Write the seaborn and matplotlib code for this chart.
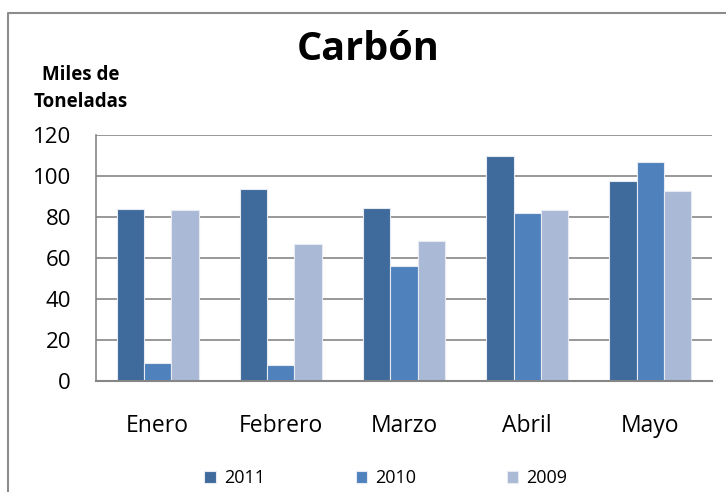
import matplotlib
matplotlib.use("Agg")
import matplotlib.pyplot as plt
from matplotlib.lines import Line2D
import seaborn as sns
import pandas as pd

# Monthly coal figures (thousands of tonnes) per year
meses = ["Enero", "Febrero", "Marzo", "Abril", "Mayo"]
anios = ["2011", "2010", "2009"]
valores_2011 = [84, 93.7, 84.2, 109.8, 97.6]
valores_2010 = [9.0, 7.6, 56.0, 82.1, 107.0]
valores_2009 = [83.5, 67.0, 68.2, 83.4, 92.9]
y_ticks = [0, 20, 40, 60, 80, 100, 120]

colores = ["#3F6A9C", "#4F81BD", "#AAB9D6"]

df = pd.DataFrame({
    "Mes": meses * 3,
    "Año": [anios[0]] * 5 + [anios[1]] * 5 + [anios[2]] * 5,
    "Valor": valores_2011 + valores_2010 + valores_2009,
})

sns.set_theme(style="white")
plt.rcParams["font.family"] = ["Open Sans", "DejaVu Sans"]
plt.rcParams["text.color"] = "black"
plt.rcParams["xtick.color"] = "black"
plt.rcParams["ytick.color"] = "black"

fig = plt.figure(figsize=(7.26, 4.92), dpi=100)
ax = fig.add_axes([96 / 726, 1 - 381 / 492, (712 - 96) / 726, (381 - 135) / 492])

sns.barplot(data=df, x="Mes", y="Valor", hue="Año", hue_order=anios,
            order=meses, palette=colores, width=0.667, ax=ax,
            edgecolor="#E6EBF3", linewidth=0.8, saturation=1)

ax.set_xlim(-0.5, 4.5)
ax.set_ylim(0, 120)
ax.set_yticks(y_ticks)
ax.set_yticklabels([str(t) for t in y_ticks], fontsize=16)
ax.tick_params(axis="x", labelsize=16.5, length=0, pad=24, labelcolor="black")
ax.tick_params(axis="y", length=0, pad=18, labelcolor="black")
ax.set_xlabel("")
ax.set_ylabel("")

grid_color = "#868686"
ax.yaxis.grid(True, color=grid_color, linewidth=1.2)
ax.set_axisbelow(True)
for side in ["top", "right"]:
    ax.spines[side].set_visible(False)
ax.spines["left"].set_color(grid_color)
ax.spines["left"].set_linewidth(1.2)
ax.spines["bottom"].set_color(grid_color)
ax.spines["bottom"].set_linewidth(1.5)

handles, labels = ax.get_legend_handles_labels()
ax.get_legend().remove()
leg = fig.legend(handles, labels, loc="center", bbox_to_anchor=(386 / 726, 1 - 478 / 492),
                 ncol=3, frameon=False, fontsize=13, handlelength=0.65, handleheight=0.65,
                 handletextpad=0.45, columnspacing=5.0)
for t in leg.get_texts():
    t.set_color("black")

fig.text(368 / 726, 1 - 50 / 492, "Carbón", ha="center", va="center",
         fontsize=28.5, fontweight="bold", color="black")
fig.text(81 / 726, 1 - 75 / 492, "Miles de", ha="center", va="center",
         fontsize=13.5, fontweight="bold", color="black")
fig.text(81 / 726, 1 - 102 / 492, "Toneladas", ha="center", va="center",
         fontsize=13.5, fontweight="bold", color="black")

# Chart frame (top and left edges)
fig.add_artist(Line2D([8 / 726, 8 / 726, 1.0], [0.0, 1 - 13 / 492, 1 - 13 / 492],
                      transform=fig.transFigure, color="#8C8C8C", linewidth=1.5))

fig.savefig("out.png", dpi=100)
